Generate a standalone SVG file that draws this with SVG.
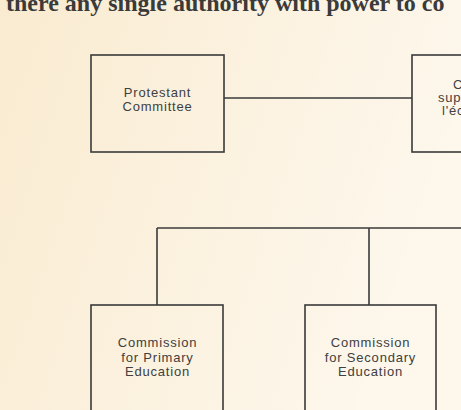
<svg xmlns="http://www.w3.org/2000/svg" width="461" height="410" viewBox="0 0 461 410">
<defs>
<linearGradient id="bg" x1="0" y1="0" x2="1" y2="0.3">
<stop offset="0" stop-color="#f9ebd0"/>
<stop offset="0.5" stop-color="#fbf1de"/>
<stop offset="1" stop-color="#fdf7ec"/>
</linearGradient>
</defs>
<style>
.box{fill:none;stroke:#3a3a3a;stroke-width:1.6}
.conn{fill:none;stroke:#3a3a3a;stroke-width:1.6}
.lbl{font-family:"Liberation Sans",Arial,sans-serif;font-size:13px;letter-spacing:0.8px;fill:#404040;text-anchor:middle}
.lbls{font-family:"Liberation Sans",Arial,sans-serif;font-size:13px;letter-spacing:0.8px;fill:#404040}
.head{font-family:"Liberation Serif","Times New Roman",serif;font-size:24px;font-weight:bold;fill:#3a3a3a}
</style>
<rect x="0" y="0" width="461" height="410" fill="url(#bg)"/>
<text class="head" x="6" y="10.5">there any single authority with power to co</text>
<g id="connectors">
<line class="conn" x1="224" y1="98" x2="412" y2="98"/>
<line class="conn" x1="157" y1="228" x2="461" y2="228"/>
<line class="conn" x1="157" y1="228" x2="157" y2="305"/>
<line class="conn" x1="369" y1="228" x2="369" y2="305"/>
</g>
<g id="protestant">
<rect class="box" x="91" y="55" width="133" height="97"/>
<text class="lbl" x="157.5" y="97">Protestant</text>
<text class="lbl" x="157.5" y="111">Committee</text>
</g>
<g id="conseil">
<rect class="box" x="412" y="55" width="133" height="97"/>
<text class="lbls" x="453" y="89">C</text>
<text class="lbls" x="438" y="102">sup</text>
<text class="lbls" x="442" y="115">l'éc</text>
</g>
<g id="primary">
<rect class="box" x="91" y="305" width="132" height="140"/>
<text class="lbl" x="157.5" y="347">Commission</text>
<text class="lbl" x="157.5" y="361.5">for Primary</text>
<text class="lbl" x="157.5" y="376">Education</text>
</g>
<g id="secondary">
<rect class="box" x="305" y="305" width="131" height="140"/>
<text class="lbl" x="370.5" y="347">Commission</text>
<text class="lbl" x="370.5" y="361.5">for Secondary</text>
<text class="lbl" x="370.5" y="376">Education</text>
</g>
</svg>
